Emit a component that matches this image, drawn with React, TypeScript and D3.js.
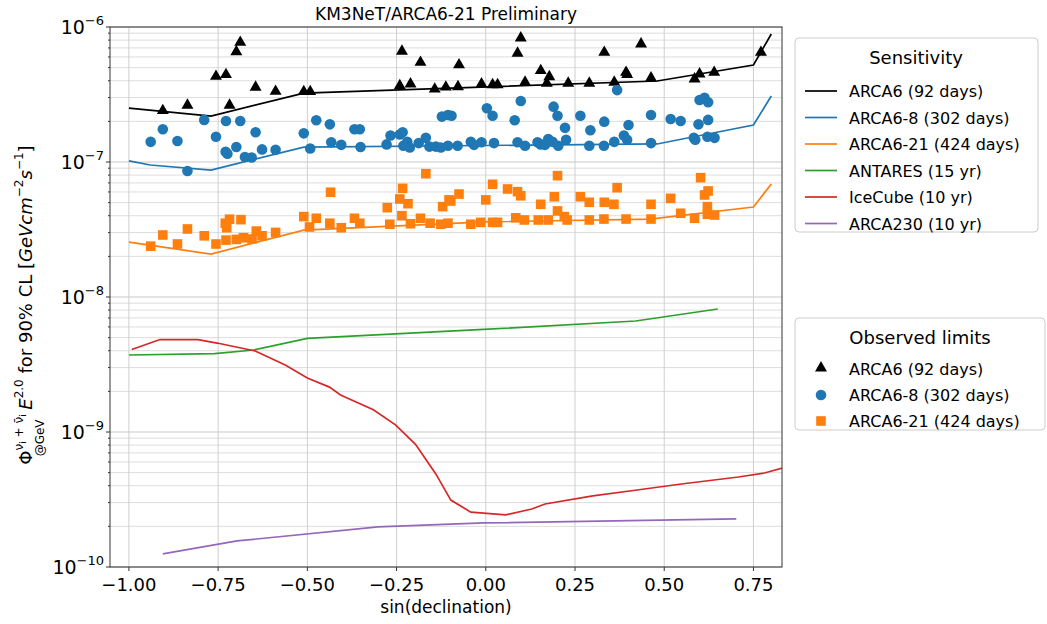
import React from 'react';
import * as d3 from 'd3';

// Sensitivity curves: [sin(declination), flux]
const arca6Sens: [number, number][] = [[-1.0, 2.51e-7], [-0.77, 2.19e-7], [-0.51, 3.24e-7], [0.48, 3.98e-7], [0.75, 5.23e-7], [0.8, 8.87e-7]];
const arca68Sens: [number, number][] = [[-1.0, 1.02e-7], [-0.94, 9.5e-8], [-0.77, 8.7e-8], [-0.51, 1.29e-7], [0.48, 1.36e-7], [0.75, 1.88e-7], [0.8, 3.08e-7]];
const arca621Sens: [number, number][] = [[-1.0, 2.55e-8], [-0.77, 2.08e-8], [-0.51, 3.13e-8], [0.0, 3.6e-8], [0.46, 3.78e-8], [0.75, 4.64e-8], [0.8, 6.87e-8]];
const antares: [number, number][] = [[-1.0, 3.72e-9], [-0.76, 3.81e-9], [-0.65, 4.05e-9], [-0.5, 4.93e-9], [-0.006, 5.75e-9], [0.42, 6.64e-9], [0.65, 8.15e-9]];
const icecube: [number, number][] = [
  [-0.992, 4.08e-9], [-0.913, 4.84e-9], [-0.806, 4.84e-9], [-0.753, 4.56e-9], [-0.646, 3.98e-9], [-0.562, 3.13e-9],
  [-0.5, 2.51e-9], [-0.438, 2.15e-9], [-0.407, 1.88e-9], [-0.315, 1.46e-9], [-0.253, 1.13e-9], [-0.197, 8.1e-10],
  [-0.14, 4.89e-10], [-0.098, 3.13e-10], [-0.042, 2.55e-10], [0.056, 2.43e-10], [0.129, 2.69e-10], [0.166, 2.93e-10],
  [0.3, 3.36e-10], [0.424, 3.72e-10], [0.548, 4.12e-10], [0.708, 4.64e-10], [0.781, 4.97e-10], [0.851, 5.6e-10],
];
const arca230: [number, number][] = [[-0.905, 1.25e-10], [-0.697, 1.56e-10], [-0.302, 1.98e-10], [-0.006, 2.12e-10], [0.702, 2.27e-10]];

// Observed limits
const arca6Obs: [number, number][] = [
  [-0.905, 2.36e-7], [-0.836, 2.59e-7], [-0.756, 4.24e-7], [-0.728, 4.36e-7], [-0.699, 6.45e-7], [-0.688, 7.57e-7],
  [-0.718, 2.59e-7], [-0.645, 3.52e-7], [-0.589, 3.28e-7], [-0.51, 3.27e-7], [-0.492, 3.27e-7], [-0.241, 3.61e-7],
  [-0.235, 6.5e-7], [-0.211, 3.72e-7], [-0.183, 5.38e-7], [-0.143, 3.41e-7], [-0.112, 3.53e-7], [-0.078, 3.55e-7],
  [-0.075, 5.16e-7], [-0.012, 3.72e-7], [0.019, 3.67e-7], [0.033, 3.67e-7], [0.089, 6.28e-7], [0.098, 8.15e-7],
  [0.11, 3.83e-7], [0.154, 4.67e-7], [0.171, 3.77e-7], [0.178, 4.21e-7], [0.231, 3.77e-7], [0.29, 3.77e-7],
  [0.332, 6.38e-7], [0.36, 3.83e-7], [0.393, 4.54e-7], [0.396, 4.36e-7], [0.435, 7.36e-7], [0.463, 4.12e-7],
  [0.585, 4.05e-7], [0.599, 4.41e-7], [0.64, 4.54e-7], [0.771, 6.38e-7],
];
const arca68Obs: [number, number][] = [
  [-0.939, 1.41e-7], [-0.905, 1.75e-7], [-0.864, 1.43e-7], [-0.836, 8.57e-8], [-0.789, 2.05e-7], [-0.756, 1.54e-7],
  [-0.728, 2.01e-7], [-0.688, 2.01e-7], [-0.729, 1.19e-7], [-0.724, 1.15e-7], [-0.699, 1.29e-7], [-0.675, 1.09e-7],
  [-0.656, 1.08e-7], [-0.645, 1.66e-7], [-0.627, 1.24e-7], [-0.589, 1.23e-7], [-0.51, 1.63e-7], [-0.492, 1.26e-7],
  [-0.475, 2.04e-7], [-0.437, 1.9e-7], [-0.433, 1.4e-7], [-0.405, 1.34e-7], [-0.368, 1.75e-7], [-0.353, 1.75e-7],
  [-0.351, 1.29e-7], [-0.278, 1.35e-7], [-0.267, 1.57e-7], [-0.241, 1.6e-7], [-0.233, 1.66e-7], [-0.231, 1.32e-7],
  [-0.22, 1.41e-7], [-0.213, 1.28e-7], [-0.188, 1.38e-7], [-0.168, 1.51e-7], [-0.158, 1.3e-7], [-0.14, 1.3e-7],
  [-0.123, 2.17e-7], [-0.126, 1.28e-7], [-0.106, 2.23e-7], [-0.106, 1.32e-7], [-0.096, 2.2e-7], [-0.079, 1.32e-7],
  [-0.042, 1.41e-7], [-0.033, 1.34e-7], [-0.012, 1.4e-7], [0.003, 2.5e-7], [0.019, 2.2e-7], [0.023, 1.38e-7],
  [0.081, 2.04e-7], [0.089, 1.4e-7], [0.098, 2.83e-7], [0.11, 1.32e-7], [0.145, 1.4e-7], [0.154, 1.35e-7],
  [0.166, 1.34e-7], [0.175, 1.48e-7], [0.187, 1.41e-7], [0.19, 2.57e-7], [0.201, 2.2e-7], [0.203, 1.32e-7],
  [0.222, 1.79e-7], [0.225, 1.46e-7], [0.265, 2.2e-7], [0.29, 1.32e-7], [0.293, 1.72e-7], [0.331, 1.32e-7],
  [0.332, 1.99e-7], [0.36, 1.41e-7], [0.368, 3.41e-7], [0.387, 1.57e-7], [0.396, 1.46e-7], [0.4, 1.88e-7],
  [0.463, 2.23e-7], [0.463, 1.38e-7], [0.518, 2.08e-7], [0.546, 2.01e-7], [0.583, 1.51e-7], [0.587, 1.46e-7],
  [0.596, 1.9e-7], [0.599, 2.88e-7], [0.613, 2.99e-7], [0.623, 2.77e-7], [0.623, 2.05e-7], [0.621, 1.54e-7],
  [0.641, 1.51e-7],
];
const arca621Obs: [number, number][] = [
  [-0.939, 2.38e-8], [-0.905, 2.88e-8], [-0.864, 2.47e-8], [-0.836, 3.19e-8], [-0.789, 2.84e-8], [-0.756, 2.47e-8],
  [-0.73, 3.52e-8], [-0.718, 3.77e-8], [-0.726, 3.26e-8], [-0.686, 3.74e-8], [-0.728, 2.64e-8], [-0.699, 2.67e-8],
  [-0.679, 2.75e-8], [-0.655, 2.69e-8], [-0.643, 3.08e-8], [-0.627, 2.84e-8], [-0.589, 3.01e-8], [-0.51, 3.94e-8],
  [-0.494, 3.3e-8], [-0.475, 3.83e-8], [-0.435, 5.97e-8], [-0.437, 3.52e-8], [-0.405, 3.26e-8], [-0.368, 3.83e-8],
  [-0.353, 3.52e-8], [-0.276, 4.59e-8], [-0.269, 3.46e-8], [-0.241, 5.32e-8], [-0.233, 6.38e-8], [-0.235, 4.0e-8],
  [-0.218, 4.91e-8], [-0.211, 3.49e-8], [-0.183, 3.83e-8], [-0.168, 8.19e-8], [-0.156, 3.52e-8], [-0.126, 3.46e-8],
  [-0.121, 4.67e-8], [-0.103, 5.24e-8], [-0.106, 3.52e-8], [-0.098, 5.14e-8], [-0.075, 5.79e-8], [-0.042, 3.46e-8],
  [-0.014, 3.57e-8], [0.0, 5.24e-8], [0.019, 6.84e-8], [0.019, 3.57e-8], [0.033, 3.57e-8], [0.061, 6.31e-8],
  [0.084, 3.86e-8], [0.089, 6.03e-8], [0.098, 5.62e-8], [0.108, 3.72e-8], [0.147, 3.72e-8], [0.154, 4.86e-8],
  [0.175, 3.72e-8], [0.192, 5.53e-8], [0.201, 7.92e-8], [0.201, 4.34e-8], [0.22, 3.94e-8], [0.228, 3.72e-8],
  [0.265, 5.53e-8], [0.29, 5.03e-8], [0.29, 3.72e-8], [0.332, 5.03e-8], [0.331, 3.78e-8], [0.359, 4.86e-8],
  [0.368, 6.45e-8], [0.393, 3.78e-8], [0.463, 4.86e-8], [0.463, 3.78e-8], [0.518, 5.38e-8], [0.546, 4.17e-8],
  [0.585, 3.83e-8], [0.602, 7.65e-8], [0.613, 5.7e-8], [0.623, 6.1e-8], [0.621, 4.67e-8], [0.621, 4.1e-8],
  [0.641, 4.05e-8],
];

const xTicks = [-1.0, -0.75, -0.5, -0.25, 0.0, 0.25, 0.5, 0.75];
const yDecades = [-10, -9, -8, -7, -6];

const sensSeries = [
  { name: 'ARCA6 (92 days)', data: arca6Sens, color: '#000000' },
  { name: 'ARCA6-8 (302 days)', data: arca68Sens, color: '#1f77b4' },
  { name: 'ARCA6-21 (424 days)', data: arca621Sens, color: '#ff7f0e' },
  { name: 'ANTARES (15 yr)', data: antares, color: '#2ca02c' },
  { name: 'IceCube (10 yr)', data: icecube, color: '#d62728' },
  { name: 'ARCA230 (10 yr)', data: arca230, color: '#9467bd' },
];
const obsSeries = [
  { name: 'ARCA6 (92 days)', data: arca6Obs, color: '#000000', shape: 'tri' },
  { name: 'ARCA6-8 (302 days)', data: arca68Obs, color: '#1f77b4', shape: 'circle' },
  { name: 'ARCA6-21 (424 days)', data: arca621Obs, color: '#ff7f0e', shape: 'square' },
];

const W = 1047, H = 624;
const m = { left: 110, right: 782, top: 27, bottom: 567 };
const font = 'DejaVu Sans, sans-serif';

const Marker = ({ shape, x, y, color }: { shape: string; x: number; y: number; color: string }) => {
  if (shape === 'tri') {
    const s = d3.symbol(d3.symbolTriangle, 62)();
    return <path d={s || ''} transform={`translate(${x},${y - 1})`} fill={color} />;
  }
  if (shape === 'circle') return <circle cx={x} cy={y} r={5.3} fill={color} />;
  return <rect x={x - 4.8} y={y - 4.8} width={9.6} height={9.6} fill={color} />;
};

export default function App() {
  const x = d3.scaleLinear().domain([-1.053, 0.83]).range([m.left, m.right]);
  const y = d3.scaleLog().domain([1e-10, 1e-6]).range([m.bottom, m.top]);
  const line = d3.line<[number, number]>().x(d => x(d[0])).y(d => y(d[1]));

  const minor: number[] = [];
  yDecades.slice(0, -1).forEach(e => { for (let k = 2; k <= 9; k++) minor.push(k * Math.pow(10, e)); });

  return (
    <svg width={W} height={H} style={{ position: 'absolute', left: 0, top: 0, fontFamily: font }}>
      <rect width={W} height={H} fill="#fff" />
      <defs>
        <clipPath id="plot"><rect x={m.left} y={m.top} width={m.right - m.left} height={m.bottom - m.top} /></clipPath>
      </defs>
      {minor.map((v, i) => (
        <line key={'mn' + i} x1={m.left} x2={m.right} y1={y(v)} y2={y(v)} stroke="#d9d9d9" strokeWidth={0.9} />
      ))}
      {yDecades.map(e => (
        <line key={'mj' + e} x1={m.left} x2={m.right} y1={y(Math.pow(10, e))} y2={y(Math.pow(10, e))} stroke="#c8c8c8" strokeWidth={1} />
      ))}
      {xTicks.map(t => (
        <line key={'vx' + t} x1={x(t)} x2={x(t)} y1={m.top} y2={m.bottom} stroke="#cfcfcf" strokeWidth={1} />
      ))}
      <g clipPath="url(#plot)">
        {sensSeries.map(s => (
          <path key={s.name} d={line(s.data) || ''} fill="none" stroke={s.color} strokeWidth={1.7} />
        ))}
        {obsSeries.map(s => s.data.map((d, i) => (
          <Marker key={s.name + i} shape={s.shape} x={x(d[0])} y={y(d[1])} color={s.color} />
        )))}
      </g>
      <rect x={m.left} y={m.top} width={m.right - m.left} height={m.bottom - m.top} fill="none" stroke="#333" strokeWidth={1} />
      {xTicks.map(t => (
        <g key={'xt' + t}>
          <line x1={x(t)} x2={x(t)} y1={m.bottom} y2={m.bottom + 4} stroke="#333" />
          <text x={x(t)} y={m.bottom + 24} textAnchor="middle" fontSize={18} fill="#000">{d3.format('.2f')(t).replace('-', '\u2212')}</text>
        </g>
      ))}
      <text x={(m.left + m.right) / 2} y={613} textAnchor="middle" fontSize={17}>sin(declination)</text>
      {yDecades.map(e => (
        <g key={'yt' + e}>
          <line x1={m.left - 4} x2={m.left} y1={y(Math.pow(10, e))} y2={y(Math.pow(10, e))} stroke="#333" />
          <text x={m.left - 6} y={y(Math.pow(10, e)) + 7} textAnchor="end" fontSize={19}>
            10<tspan dy={-9} fontSize={13}>{'\u2212' + Math.abs(e)}</tspan>
          </text>
        </g>
      ))}
      {minor.map((v, i) => (
        <line key={'mt' + i} x1={m.left - 2} x2={m.left} y1={y(v)} y2={y(v)} stroke="#333" />
      ))}
      <g transform={`translate(32,${(m.top + m.bottom) / 2 + 8}) rotate(-90)`}>
        <text textAnchor="middle" fontSize={18}>
          <tspan>Φ</tspan>
          <tspan fontSize={12} dy={-9}>{'ν'}<tspan fontSize={9} dy={3}>i</tspan><tspan dy={-3}>{' + ν̄'}</tspan><tspan fontSize={9} dy={3}>i</tspan></tspan>
          <tspan fontSize={12} dx={-42} dy={18}>@GeV</tspan>
          <tspan dy={-12} dx={4} fontStyle="italic"> E</tspan>
          <tspan fontSize={12} dy={-9}>2.0</tspan>
          <tspan dy={9}> for 90% CL [</tspan>
          <tspan fontStyle="italic">GeVcm</tspan>
          <tspan fontSize={12} dy={-9}>−2</tspan>
          <tspan fontStyle="italic" dy={9}>s</tspan>
          <tspan fontSize={12} dy={-9}>−1</tspan>
          <tspan dy={9}>]</tspan>
        </text>
      </g>
      <text x={(m.left + m.right) / 2} y={20} textAnchor="middle" fontSize={17}>KM3NeT/ARCA6-21 Preliminary</text>
      <g transform="translate(795,38)">
        <rect width={243} height={194} rx={4} fill="#fff" stroke="#ccc" />
        <text x={121} y={26} textAnchor="middle" fontSize={18}>Sensitivity</text>
        {sensSeries.map((s, i) => (
          <g key={s.name} transform={`translate(0,${53 + i * 26.5})`}>
            <line x1={10} x2={42} y1={0} y2={0} stroke={s.color} strokeWidth={1.7} />
            <text x={54} y={6} fontSize={16}>{s.name}</text>
          </g>
        ))}
      </g>
      <g transform="translate(795,318)">
        <rect width={250} height={112} rx={4} fill="#fff" stroke="#ccc" />
        <text x={125} y={26} textAnchor="middle" fontSize={18}>Observed limits</text>
        {obsSeries.map((s, i) => (
          <g key={s.name} transform={`translate(0,${51 + i * 26})`}>
            <Marker shape={s.shape} x={26} y={0} color={s.color} />
            <text x={54} y={6} fontSize={16}>{s.name}</text>
          </g>
        ))}
      </g>
    </svg>
  );
}
